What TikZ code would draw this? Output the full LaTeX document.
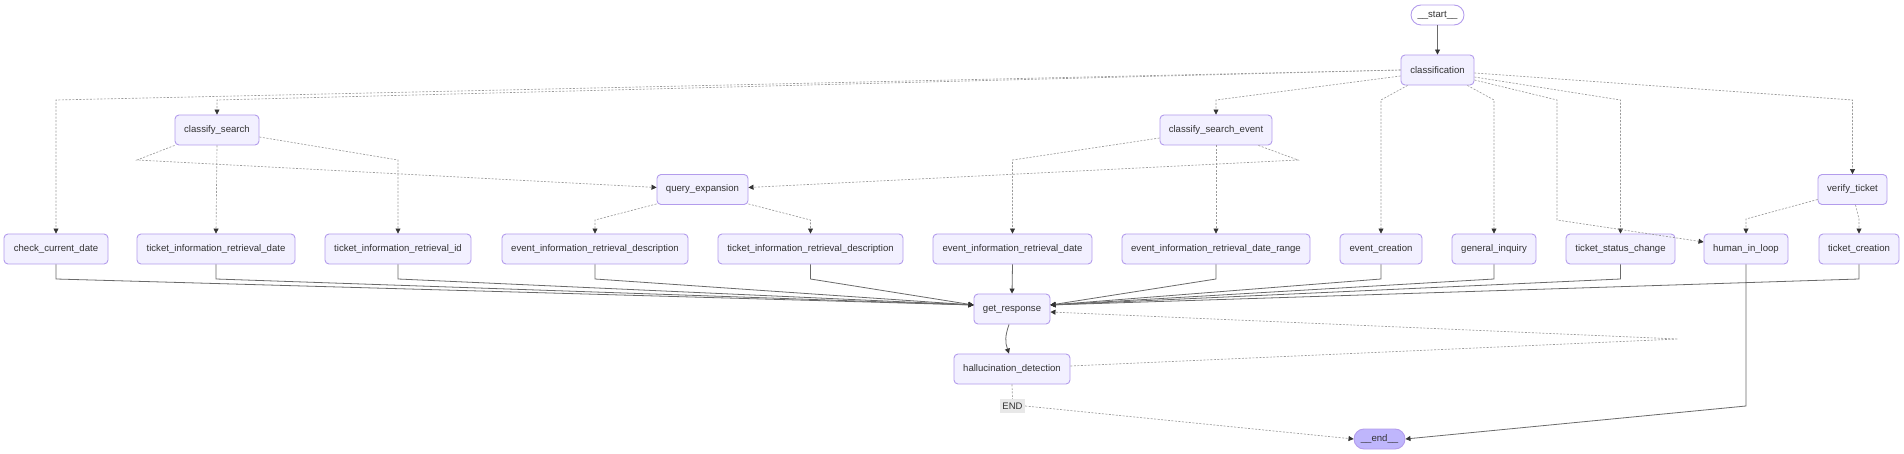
\documentclass[tikz,border=0pt]{standalone}
\usepackage{fontspec}
\setmainfont{Liberation Sans}
\usetikzlibrary{arrows.meta,calc}
\definecolor{nfill}{HTML}{F2F0FF}
\definecolor{nborder}{HTML}{B39CEC}
\definecolor{txt}{HTML}{333333}
\definecolor{solidc}{HTML}{6A6A6A}
\definecolor{dotc}{HTML}{9A9A9A}
\definecolor{arrowc}{HTML}{333333}
\definecolor{endfill}{HTML}{BFB6FC}
\definecolor{lblfill}{HTML}{E8E8E8}
\begin{document}
\begin{tikzpicture}[x=1pt,y=-1pt,
  box/.style={draw=nborder, line width=0.9pt, fill=nfill, rounded corners=4pt, minimum height=30pt, inner sep=0pt, text=txt, font=\fontsize{9.6}{11}\selectfont},
  term/.style={box, rounded corners=10pt, minimum height=20pt},
  lbl/.style={fill=lblfill, inner sep=0pt, minimum width=25pt, minimum height=14pt, text=txt, font=\fontsize{9.5}{11}\selectfont},
  solidedge/.style={draw=solidc, line width=0.8pt, -{Triangle[length=5pt,width=5pt,color=arrowc]}},
  dotedge/.style={draw=dotc, line width=0.65pt, dash pattern=on 2pt off 1.5pt, -{Triangle[length=5pt,width=5pt,color=arrowc]}},
  dotline/.style={draw=dotc, line width=0.65pt, dash pattern=on 2pt off 1.5pt},
]
\useasboundingbox (0,0) rectangle (1904,454);

% nodes
\node[term, fill=white, minimum width=53pt] (start) at (1437.5,15) {\_\_start\_\_};
\node[box, minimum width=73pt] (classification) at (1437.5,70) {classification};
\node[box, minimum width=84pt] (classify_search) at (217,130) {classify\_search};
\node[box, minimum width=112pt] (classify_search_event) at (1216,130) {classify\_search\_event};
\node[box, minimum width=91pt] (query_expansion) at (702.5,189.5) {query\_expansion};
\node[box, minimum width=69pt] (verify_ticket) at (1852.5,189.5) {verify\_ticket};

\node[box, minimum width=104pt] (check_current_date) at (56,249) {check\_current\_date};
\node[box, minimum width=158pt] (tird) at (216,249) {ticket\_information\_retrieval\_date};
\node[box, minimum width=146pt] (tirid) at (398,249) {ticket\_information\_retrieval\_id};
\node[box, minimum width=186pt] (eirdesc) at (595,249) {event\_information\_retrieval\_description};
\node[box, minimum width=185pt] (tirdesc) at (810.5,249) {ticket\_information\_retrieval\_description};
\node[box, minimum width=159pt] (eird) at (1012.5,249) {event\_information\_retrieval\_date};
\node[box, minimum width=188pt] (eirdr) at (1216,249) {event\_information\_retrieval\_date\_range};
\node[box, minimum width=82pt] (event_creation) at (1381,249) {event\_creation};
\node[box, minimum width=84pt] (general_inquiry) at (1494,249) {general\_inquiry};
\node[box, minimum width=109pt] (tsc) at (1620.5,249) {ticket\_status\_change};
\node[box, minimum width=84pt] (human_in_loop) at (1746,249) {human\_in\_loop};
\node[box, minimum width=80pt] (ticket_creation) at (1859,249) {ticket\_creation};

\node[box, minimum width=76pt] (get_response) at (1012,309) {get\_response};
\node[box, minimum width=116pt] (halluc) at (1012,369) {hallucination\_detection};
\node[lbl] (endlbl) at (1012.5,406) {END};
\node[term, fill=endfill, minimum width=51pt] (end) at (1379.5,439) {\_\_end\_\_};

% solid edges
\draw[solidedge] (start.south) -- (classification.north);
\draw[solidedge] (check_current_date.south) -- (56,279) -- ($(get_response.west)+(0,-4)$);
\draw[solidedge] (tird.south) -- (216,279) -- ($(get_response.west)+(0,-4)$);
\draw[solidedge] (tirid.south) -- (398,279) -- ($(get_response.west)+(0,-4)$);
\draw[solidedge] (eirdesc.south) -- (595,279) -- ($(get_response.west)+(0,-4)$);
\draw[solidedge] (tirdesc.south) -- (810.5,279) -- ($(get_response.west)+(0,-4)$);
\draw[solidedge] (eird.south) -- (get_response.north);
\draw[solidedge] (eirdr.south) -- (1216,279) -- ($(get_response.east)+(0,-4)$);
\draw[solidedge] (event_creation.south) -- (1381,279) -- ($(get_response.east)+(0,-4)$);
\draw[solidedge] (general_inquiry.south) -- (1494,279) -- ($(get_response.east)+(0,-4)$);
\draw[solidedge] (tsc.south) -- (1620.5,279) -- ($(get_response.east)+(0,-4)$);
\draw[solidedge] (ticket_creation.south) -- (1859,279) -- ($(get_response.east)+(0,-4)$);
\draw[solidedge] (human_in_loop.south) -- (1746,406) -- (end.east);
\draw[solidedge] ($(get_response.south)+(-3,0)$) .. controls (1005,336) and (1005,342) .. ($(halluc.north)+(-3,0)$);

% dotted edges from classification
\draw[dotedge] (classification.west) -- (56,100) -- (check_current_date.north);
\draw[dotedge] (classification.west) -- (217,100) -- (classify_search.north);
\draw[dotedge] ($(classification.west)+(0,6)$) -- (1216,100) -- (classify_search_event.north);
\draw[dotedge] ($(classification.south west)+(7,0)$) -- (1381,100) -- (event_creation.north);
\draw[dotedge] ($(classification.south east)+(-7,0)$) -- (1494,100) -- (general_inquiry.north);
\draw[dotedge] ($(classification.east)+(0,7)$) -- (1620.5,100) -- (tsc.north);
\draw[dotedge] ($(classification.east)+(0,10)$) -- (1557,100) -- (1557,220) -- ($(human_in_loop.west)+(0,-7)$);
\draw[dotedge] ($(classification.east)+(0,3)$) -- (1852.5,100) -- (verify_ticket.north);

% classify_search
\draw[dotedge] (classify_search.south west) -- (137,160) -- ($(query_expansion.west)+(0,-2)$);
\draw[dotedge] (classify_search.south) -- (tird.north);
\draw[dotedge] ($(classify_search.east)+(0,7)$) -- (398,160) -- (tirid.north);

% classify_search_event
\draw[dotedge] ($(classify_search_event.south east)+(-14,0)$) -- (1298,160) -- ($(query_expansion.east)+(0,-2)$);
\draw[dotedge] ($(classify_search_event.west)+(0,8)$) -- (1012.5,160) -- (eird.north);
\draw[dotedge] (classify_search_event.south) -- (eirdr.north);

% query_expansion
\draw[dotedge] ($(query_expansion.south west)+(0,-1)$) -- (595,220) -- (eirdesc.north);
\draw[dotedge] ($(query_expansion.south east)+(0,-1)$) -- (810.5,220) -- (tirdesc.north);

% verify_ticket
\draw[dotedge] ($(verify_ticket.west)+(0,10)$) -- (1746,219) -- (human_in_loop.north);
\draw[dotedge] ($(verify_ticket.south)+(3,0)$) -- (1859,219) -- (ticket_creation.north);

% hallucination
\draw[dotedge] ($(halluc.east)+(0,-3)$) -- (1678,339) -- ($(get_response.east)+(0,3)$);
\draw[dotline] (halluc.south) -- (endlbl.north);
\draw[dotedge] (endlbl.east) -- (end.west);
\end{tikzpicture}
\end{document}
